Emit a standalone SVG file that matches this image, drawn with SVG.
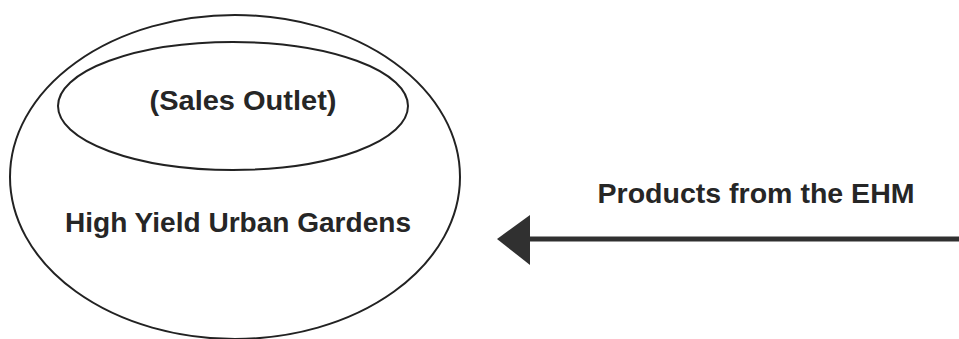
<svg xmlns="http://www.w3.org/2000/svg" width="959" height="339" viewBox="0 0 959 339">
  <style>
    .ring { fill: none; stroke: #222; stroke-width: 2; }
    .label { font-family: "Liberation Sans", Arial, sans-serif; font-weight: bold; font-size: 28px; fill: #262626; text-anchor: middle; }
    .flow { stroke: #303030; stroke-width: 5; fill: none; }
    .head { fill: #303030; }
  </style>
  <rect width="959" height="339" fill="#fff"/>
  <g id="gardens">
    <ellipse class="ring" cx="235" cy="177" rx="225" ry="162"/>
    <text class="label" x="238" y="232" textLength="346" lengthAdjust="spacingAndGlyphs">High Yield Urban Gardens</text>
  </g>
  <g id="sales-outlet">
    <ellipse class="ring" cx="233" cy="106" rx="175" ry="64"/>
    <text class="label" x="243" y="110" textLength="187" lengthAdjust="spacingAndGlyphs">(Sales Outlet)</text>
  </g>
  <g id="connectors">
    <line class="flow" x1="959" y1="239" x2="528" y2="239"/>
    <polygon class="head" points="497,239 530,215 530,265"/>
    <text class="label" x="756" y="203" textLength="317" lengthAdjust="spacingAndGlyphs">Products from the EHM</text>
  </g>
</svg>
